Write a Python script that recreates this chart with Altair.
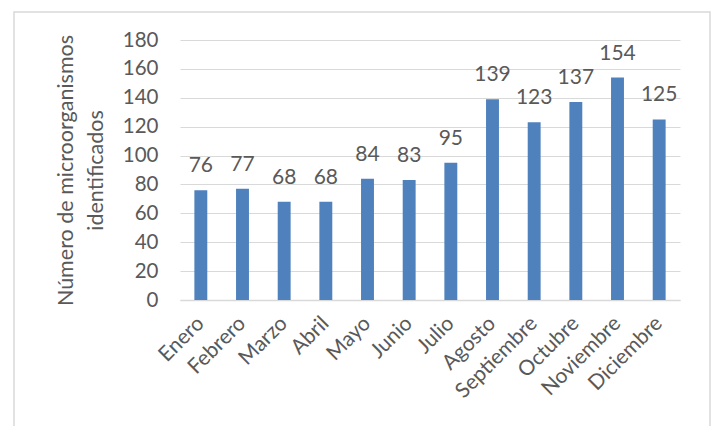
import altair as alt
import pandas as pd

months = ["Enero", "Febrero", "Marzo", "Abril", "Mayo", "Junio", "Julio",
          "Agosto", "Septiembre", "Octubre", "Noviembre", "Diciembre"]
counts = [76, 77, 68, 68, 84, 83, 95, 139, 123, 137, 154, 125]
y_ticks = [0, 20, 40, 60, 80, 100, 120, 140, 160, 180]
y_title = ["Número de microorganismos", "identificados"]

df = pd.DataFrame({"mes": months, "n": counts})

FONT = "Lato"
GREY = "#595959"
BLUE = "#4f81bd"

x_scale = alt.Scale(paddingInner=0.69, paddingOuter=0.345)
y_scale = alt.Scale(domain=[0, 180], nice=False)

x_enc = alt.X("mes:N", sort=months, scale=x_scale,
              axis=alt.Axis(title=None, labelAngle=-45, labelAlign="right",
                            labelBaseline="middle", labelPadding=20,
                            labelFontSize=21, labelFont=FONT, labelColor=GREY,
                            labelOverlap=False,
                            ticks=False, domainColor="#d9d9d9", domainWidth=1.3,
                            grid=False))
y_enc = alt.Y("n:Q", scale=y_scale,
              axis=alt.Axis(values=y_ticks, title=y_title,
                            titleFont=FONT,
                            titleFontSize=21.5, titleFontWeight="normal",
                            titleColor=GREY, titleAngle=-90, titleX=-114,
                            titleY=130, titleAlign="center",
                            titleBaseline="middle", titleLineHeight=30,
                            labelFontSize=20.5, labelFont=FONT, labelColor=GREY,
                            labelOverlap=False, labelFlush=False,
                            labelPadding=22, ticks=False, domain=False,
                            grid=True, gridColor="#d9d9d9", gridWidth=1.2))

base = alt.Chart(df).encode(x=x_enc, y=y_enc)
bars = base.mark_bar(color=BLUE)
labels = base.mark_text(font=FONT, fontSize=21, color=GREY, dy=-18,
                        baseline="alphabetic").encode(text="n:Q")

frame = alt.Chart(pd.DataFrame({"a": [0]})).mark_rect(
    fill=None, stroke="#d9d9d9", strokeWidth=1.5).encode(
    x=alt.value(-166), x2=alt.value(530), y=alt.value(-28), y2=alt.value(450))

chart = alt.layer(bars, labels, frame).properties(
    width=500, height=260,
    background="white",
    padding={"left": 180, "top": 40, "right": 33, "bottom": 126},
    autosize=alt.AutoSizeParams(type="none"),
).configure_view(strokeWidth=0, stroke="transparent")

chart.save("out.html", embed_options={"renderer": "svg", "actions": False})
